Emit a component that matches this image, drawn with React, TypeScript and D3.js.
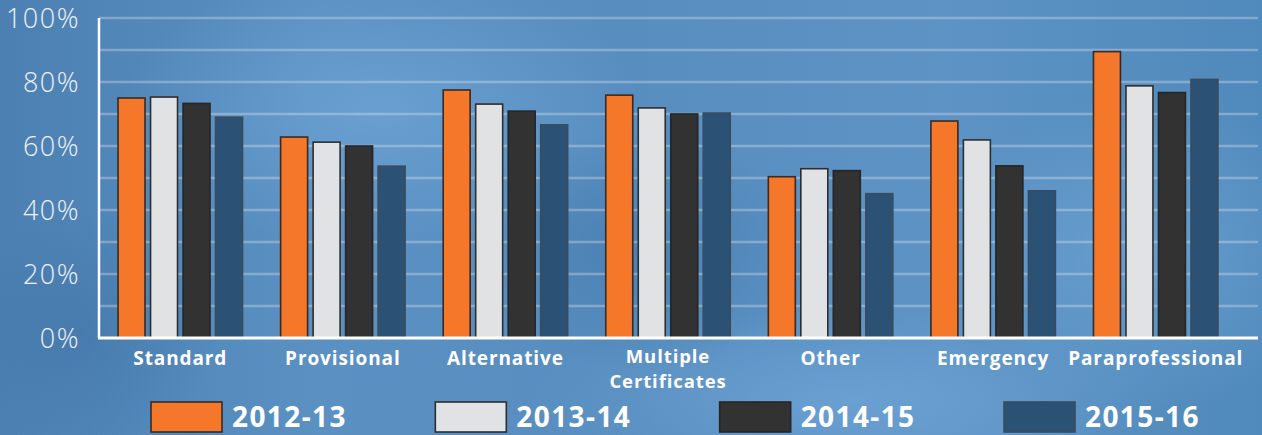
import React from "react";
import * as d3 from "d3";

const categories = ["Standard", "Provisional", "Alternative", "Multiple Certificates", "Other", "Emergency", "Paraprofessional"];
const seriesNames = ["2012-13", "2013-14", "2014-15", "2015-16"];
const s2012 = [75, 62.8, 77.5, 75.9, 50.4, 67.8, 89.5];
const s2013 = [75.3, 61.2, 73.1, 71.9, 52.9, 61.9, 78.8];
const s2014 = [73.3, 60, 70.9, 70, 52.3, 53.8, 76.7];
const s2015 = [69, 53.7, 66.6, 70.3, 45.1, 46, 80.8];
const yTicks = [0, 20, 40, 60, 80, 100];
const gridTicks = [10, 20, 30, 40, 50, 60, 70, 80, 90, 100];

const fills = ["#f4772a", "#e1e2e4", "#323232", "#2b5275"];
const strokes = ["#3a2a22", "#2e2e2e", "#262626", "#3c4b5c"];

export default function App() {
  const W = 1262, H = 435;
  const left = 99, right = 1237, gridRight = 1258;
  const y = d3.scaleLinear().domain([0, 100]).range([338, 18]);
  const x0 = d3.scaleBand<string>().domain(categories).range([left, right]).padding(0);
  const inner = 130;
  const off = (x0.bandwidth() - inner) / 2;
  const x1 = d3.scaleBand<string>().domain(seriesNames).range([0, inner]).paddingInner(0.17).paddingOuter(0.085);
  const series = [s2012, s2013, s2014, s2015];
  const legendX = d3.scalePoint<string>().domain(seriesNames).range([151, 1004]);

  return (
    <svg width={W} height={H} style={{ position: "absolute", left: 0, top: 0, display: "block" }}>
      <defs>
        <linearGradient id="bg" x1="0" y1="0" x2="1" y2="0">
          <stop offset="0" stopColor="#4c80b2" />
          <stop offset="0.25" stopColor="#5a90c2" />
          <stop offset="0.5" stopColor="#588dbf" />
          <stop offset="0.75" stopColor="#5d93c5" />
          <stop offset="1" stopColor="#5089bb" />
        </linearGradient>
        <radialGradient id="glow1" cx="0.5" cy="0.5" r="0.5">
          <stop offset="0" stopColor="#7aaee0" stopOpacity="0.5" />
          <stop offset="1" stopColor="#7aaee0" stopOpacity="0" />
        </radialGradient>
        <radialGradient id="dark1" cx="0.5" cy="0.5" r="0.5">
          <stop offset="0" stopColor="#3f73a5" stopOpacity="0.5" />
          <stop offset="1" stopColor="#3f73a5" stopOpacity="0" />
        </radialGradient>
      </defs>
      <rect x={0} y={0} width={W} height={H} fill="url(#bg)" />
      <ellipse cx={380} cy={110} rx={260} ry={140} fill="url(#glow1)" />
      <ellipse cx={850} cy={400} rx={320} ry={90} fill="url(#glow1)" />
      <ellipse cx={1150} cy={250} rx={200} ry={160} fill="url(#glow1)" />
      <ellipse cx={80} cy={330} rx={140} ry={120} fill="url(#dark1)" />
      <ellipse cx={640} cy={250} rx={180} ry={120} fill="url(#dark1)" />

      {gridTicks.map((t) => (
        <line key={t} x1={left} x2={gridRight} y1={y(t)} y2={y(t)} stroke="#ffffff" strokeOpacity={0.28} strokeWidth={2.5} />
      ))}

      {categories.map((c, i) => (
        <g key={c} transform={`translate(${(x0(c) as number) + off},0)`}>
          {seriesNames.map((s, j) => {
            const v = series[j][i];
            return (
              <rect
                key={s}
                x={x1(s) as number}
                y={y(v)}
                width={x1.bandwidth()}
                height={y(0) - y(v)}
                fill={fills[j]}
                stroke={strokes[j]}
                strokeWidth={1.6}
              />
            );
          })}
        </g>
      ))}

      <line x1={left} x2={left} y1={y(100)} y2={y(0)} stroke="#ffffff" strokeWidth={2.5} />
      <line x1={left - 1} x2={gridRight} y1={y(0)} y2={y(0)} stroke="#ffffff" strokeWidth={3} />

      {yTicks.map((t) => (
        <text
          key={t}
          x={80}
          y={y(t)}
          dy="0.36em"
          textAnchor="end"
          fontFamily="'Open Sans', sans-serif"
          fontWeight={300}
          fontSize={27}
          letterSpacing={1.5}
          fill="#eef2f6"
        >
          {t}%
        </text>
      ))}

      {categories.map((c) => {
        const cx = (x0(c) as number) + x0.bandwidth() / 2;
        const lines = c === "Multiple Certificates" ? ["Multiple", "Certificates"] : [c];
        return (
          <g key={c}>
            {lines.map((l, k) => (
              <text
                key={l}
                x={cx}
                y={lines.length > 1 ? 363 + k * 25 : 365}
                textAnchor="middle"
                fontFamily="'Open Sans', sans-serif"
                fontWeight={700}
                fontSize={lines.length > 1 ? 18.5 : 19}
                letterSpacing={0.9}
                fill="#ffffff"
              >
                {l}
              </text>
            ))}
          </g>
        );
      })}

      {seriesNames.map((s, j) => {
        const lx = legendX(s) as number;
        return (
          <g key={s}>
            <rect x={lx} y={402} width={71} height={30} fill={fills[j]} stroke={strokes[j]} strokeWidth={1.6} />
            <text x={lx + 81} y={427} fontFamily="'Open Sans', sans-serif" fontWeight={700} fontSize={28} letterSpacing={1.4} fill="#ffffff">
              {s}
            </text>
          </g>
        );
      })}
    </svg>
  );
}
